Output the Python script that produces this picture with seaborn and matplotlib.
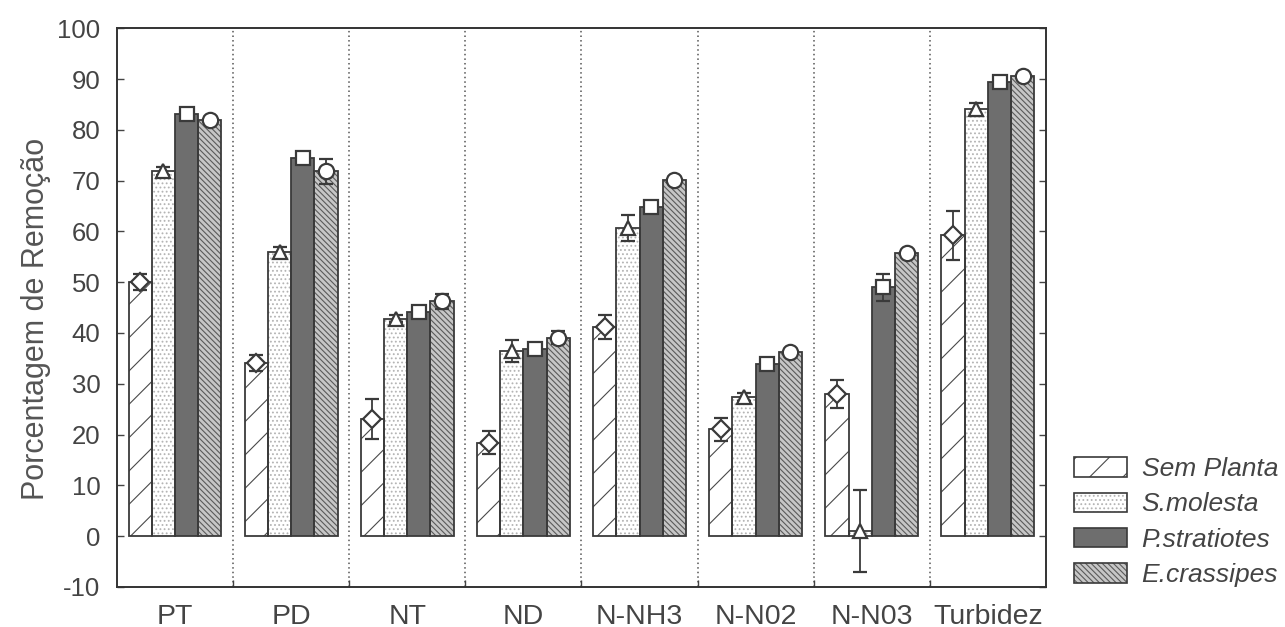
import numpy as np
import pandas as pd
import matplotlib
matplotlib.use("Agg")
import matplotlib.pyplot as plt
from matplotlib.patches import Patch, Rectangle
from matplotlib.legend_handler import HandlerTuple
import seaborn as sns

# ---- data -------------------------------------------------------------
parametros = ["PT", "PD", "NT", "ND", "N-NH3", "N-N02", "N-N03", "Turbidez"]
tratamentos = ["Sem Planta", "S.molesta", "P.stratiotes", "E.crassipes"]

sem_planta = [50.1, 34.1, 23.0, 18.4, 41.2, 21.0, 28.0, 59.2]
sem_planta_err = [1.6, 1.5, 3.9, 2.2, 2.3, 2.2, 2.8, 4.9]
s_molesta = [71.8, 55.9, 42.8, 36.4, 60.7, 27.4, 1.0, 84.0]
s_molesta_err = [0.8, 1.0, 0.7, 2.2, 2.5, 0.8, 8.0, 1.2]
p_stratiotes = [83.1, 74.5, 44.1, 36.8, 64.8, 33.9, 49.0, 89.5]
p_stratiotes_err = [0.4, 0.4, 0.4, 0.4, 0.6, 0.6, 2.7, 0.5]
e_crassipes = [82.0, 71.8, 46.2, 39.1, 70.1, 36.2, 55.7, 90.6]
e_crassipes_err = [0.6, 2.5, 1.5, 1.3, 0.6, 0.5, 0.5, 0.5]

medias = [sem_planta, s_molesta, p_stratiotes, e_crassipes]
erros = [sem_planta_err, s_molesta_err, p_stratiotes_err, e_crassipes_err]

df = pd.DataFrame(
    [(p, t, medias[j][i]) for j, t in enumerate(tratamentos) for i, p in enumerate(parametros)],
    columns=["parametro", "tratamento", "valor"],
)

# ---- styles -----------------------------------------------------------
EDGE = "#3a3a3a"
TEXT = "#444444"
estilos = {
    "Sem Planta":   dict(face="white",   hatch="/",            hcolor="#4a4a4a", marker="D", ms=9),
    "S.molesta":    dict(face="white",   hatch="....",         hcolor="#b4b4b4", marker="^", ms=10),
    "P.stratiotes": dict(face="#6e6e6e", hatch=None,           hcolor="#6e6e6e", marker="s", ms=10),
    "E.crassipes":  dict(face="#c6c6c6", hatch="\\\\\\\\\\\\", hcolor="#5a5a5a", marker="o", ms=11),
}

sns.set_theme(style="white")
plt.rcParams["font.family"] = ["Liberation Sans", "DejaVu Sans"]
plt.rcParams["hatch.linewidth"] = 0.8
plt.rcParams["axes.unicode_minus"] = False

fig = plt.figure(figsize=(12.85, 6.27), dpi=100)
ax = fig.add_axes([0.091, 0.064, 0.723, 0.891])

sns.barplot(
    data=df, x="parametro", y="valor", hue="tratamento",
    order=parametros, hue_order=tratamentos,
    palette={t: estilos[t]["face"] for t in tratamentos},
    errorbar=None, width=0.8, saturation=1, linewidth=0, legend=False, ax=ax,
)

for cont, trat, vals, errs in zip(ax.containers, tratamentos, medias, erros):
    st = estilos[trat]
    xs = []
    for patch in cont.patches:
        patch.set_edgecolor(st["hcolor"])
        patch.set_linewidth(0)
        if st["hatch"]:
            patch.set_hatch(st["hatch"])
        ax.add_patch(Rectangle(patch.get_xy(), patch.get_width(), patch.get_height(),
                               fill=False, edgecolor=EDGE, linewidth=1.3, zorder=patch.get_zorder() + 0.1))
        xs.append(patch.get_x() + patch.get_width() / 2)
    ax.errorbar(xs, vals, yerr=errs, fmt=st["marker"], ms=st["ms"], mfc="white", mec=EDGE,
                mew=1.6, ecolor=EDGE, elinewidth=1.3, capsize=5, capthick=1.3, zorder=5)

# group separators
for b in np.arange(0.5, len(parametros) - 0.5, 1.0):
    ax.axvline(b, color="#555555", linestyle=(0, (1, 2)), linewidth=1.1, zorder=0)

ax.set_xlim(-0.5, len(parametros) - 0.5)
ax.set_ylim(-10, 100)
ax.set_yticks(np.arange(-10, 101, 10))
ax.set_xticks(range(len(parametros)))
ax.set_xticklabels(parametros)
ax.set_xticks(np.arange(0.5, len(parametros) - 0.5, 1.0), minor=True)
ax.tick_params(axis="x", which="major", length=0, labelsize=20.5, labelcolor=TEXT, pad=12)
ax.tick_params(axis="x", which="minor", bottom=True, direction="in", length=5, width=1, color="#444444")
ax.tick_params(axis="y", left=True, right=True, direction="in", length=5, width=1, color="#444444",
               labelsize=18.5, labelcolor=TEXT, pad=12)
ax.set_xlabel("")
ax.set_ylabel("Porcentagem de Remoção", fontsize=22, color="#555555")
ax.yaxis.set_label_coords(-0.071, 0.48)

for s in ax.spines.values():
    s.set_visible(True)
    s.set_color("#333333")
    s.set_linewidth(1.4)

# legend
handles = []
for t in tratamentos:
    st = estilos[t]
    fill = Patch(facecolor=st["face"], edgecolor=st["hcolor"], hatch=st["hatch"], linewidth=0)
    outline = Patch(facecolor="none", edgecolor=EDGE, linewidth=1.2)
    handles.append((fill, outline))
leg = fig.legend(handles, tratamentos, loc="upper left", bbox_to_anchor=(0.836, 0.271),
                 frameon=False, fontsize=19, handlelength=2.0, handleheight=0.75,
                 labelspacing=0.43, handletextpad=0.55, borderpad=0, borderaxespad=0,
                 handler_map={tuple: HandlerTuple(ndivide=1, pad=0)})
for txt in leg.get_texts():
    txt.set_fontstyle("italic")
    txt.set_color(TEXT)

fig.savefig("out.png", dpi=100, facecolor="white")
